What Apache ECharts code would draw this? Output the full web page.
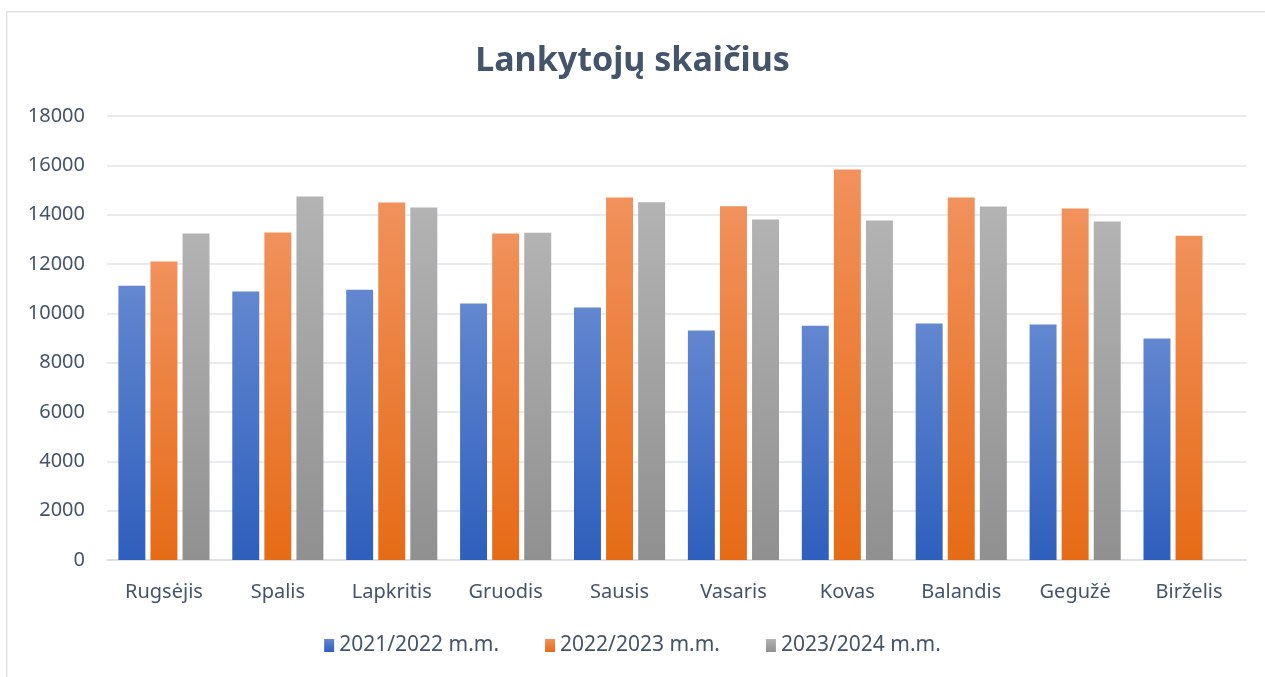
<!DOCTYPE html>
<html>
<head>
<meta charset="utf-8">
<script src="https://cdn.jsdelivr.net/npm/echarts@6/dist/echarts.min.js"></script>
<style>html,body{margin:0;padding:0;background:#fff;}#c{width:1265px;height:677px;}</style>
</head>
<body>
<div id="c"></div>
<script>
const categories = ['Rugsėjis','Spalis','Lapkritis','Gruodis','Sausis','Vasaris','Kovas','Balandis','Gegužė','Birželis'];
const seriesNames = ['2021/2022 m.m.','2022/2023 m.m.','2023/2024 m.m.'];
const values2122 = [11120, 10890, 10960, 10400, 10240, 9300, 9500, 9590, 9550, 8980];
const values2223 = [12100, 13280, 14490, 13240, 14700, 14340, 15830, 14700, 14250, 13150];
const values2324 = [13240, 14740, 14290, 13270, 14500, 13800, 13760, 14330, 13720, null];
const yTicks = {min: 0, max: 18000, interval: 2000};

const textColor = '#44546A';
const font = '"Noto Sans", "Open Sans", sans-serif';
function grad(top, bottom){
  return new echarts.graphic.LinearGradient(0,0,0,1,[{offset:0,color:top},{offset:1,color:bottom}]);
}
const fills = [grad('#6387d0','#2e5fbd'), grad('#f1915c','#e66b16'), grad('#b3b3b3','#909090')];

const chart = echarts.init(document.getElementById('c'), null, {renderer:'canvas'});
chart.setOption({
  animation: false,
  backgroundColor: '#ffffff',
  graphic: [{
    type: 'rect', left: 6, top: 11, z: -10,
    shape: {width: 1300, height: 700},
    style: {fill: '#ffffff', stroke: '#dfe3e9', lineWidth: 1.5}
  }],
  title: {
    text: 'Lankytojų skaičius',
    left: 'center', top: 39,
    textStyle: {fontFamily: font, fontWeight: 'bold', fontSize: 34, color: textColor}
  },
  legend: {
    bottom: 16, left: 'center',
    itemWidth: 10, itemHeight: 13, itemGap: 46,
    icon: 'rect',
    textStyle: {fontFamily: font, fontSize: 21, color: textColor},
    data: seriesNames
  },
  grid: {left: 107, right: 19, top: 116, bottom: 117, containLabel: false},
  xAxis: {
    type: 'category', data: categories,
    axisLine: {lineStyle: {color: '#d9dde3', width: 1.5}},
    axisTick: {show: false},
    axisLabel: {fontFamily: font, fontSize: 20, color: textColor, margin: 22}
  },
  yAxis: {
    type: 'value', min: yTicks.min, max: yTicks.max, interval: yTicks.interval,
    axisLine: {show: false}, axisTick: {show: false},
    axisLabel: {fontFamily: font, fontSize: 20, color: textColor, margin: 22, formatter: v => String(v)},
    splitLine: {lineStyle: {color: '#dfe3e9', width: 1.5}}
  },
  series: [values2122, values2223, values2324].map((d,i)=>({
    name: seriesNames[i], type: 'bar', data: d,
    barGap: '19%', barCategoryGap: '20%',
    itemStyle: {color: fills[i]}
  }))
});
</script>
</body>
</html>
